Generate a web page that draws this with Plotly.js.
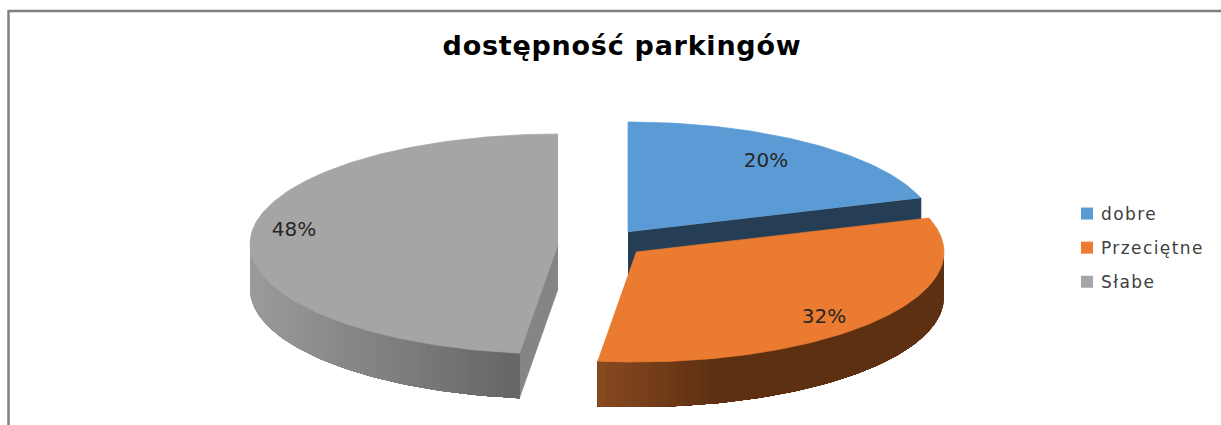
<!DOCTYPE html>
<html><head><meta charset="utf-8">
<script src="https://cdn.plot.ly/plotly-3.0.1.min.js"></script>
<style>
html,body{margin:0;padding:0;background:#fff;overflow:hidden}
.legendtext{letter-spacing:1.4px;transform:translateX(-6px)}
.gtitle{letter-spacing:0.75px}
</style>
</head><body><div id="chart" style="width:1221px;height:425px"></div>
<script>
const chartTitle = 'dostępność parkingów';
const categories = ['dobre', 'Przeciętne', 'Słabe'];
const values = [20, 32, 48];
const topColors = ['#5b9bd5', '#ea7b30', '#a5a5a5'];

// Projection of the tilted, exploded pie (axis units = pixels)
const RX = 308, RY = 110, DEPTH = 45;
const centers = [[628, 232], [636, 252], [558, 244]];
const labelPos = [[766, 162], [824, 318], [294, 231]];

const total = values.reduce((a, b) => a + b, 0);
const pt = (c, deg, dy = 0) => {
  const t = deg * Math.PI / 180;
  return [c[0] + RX * Math.sin(t), c[1] - RY * Math.cos(t) + dy];
};
const arc = (c, a0, a1, dy = 0, step = 1) => {
  const out = [], n = Math.max(1, Math.ceil(Math.abs(a1 - a0) / step));
  for (let i = 0; i <= n; i++) out.push(pt(c, a0 + (a1 - a0) * i / n, dy));
  return out;
};
const poly = (pts, color, w = 0.7) => ({
  type: 'scatter', mode: 'lines', x: pts.map(p => p[0]), y: pts.map(p => p[1]),
  fill: 'toself', fillcolor: color, line: {color: color, width: w},
  hoverinfo: 'skip', showlegend: false
});
const mix = (a, b, f) => 'rgb(' + a.map((v, i) => Math.round(v + (b[i] - v) * f)).join(',') + ')';

let start = 0;
const spans = values.map(v => { const s = [start, start + v / total * 360]; start = s[1]; return s; });

// shaded outer wall: each band runs to the wall's far end, the next one paints over it
function wall(c, from, to, shade) {
  const N = 60;
  for (let i = 0; i < N; i++) {
    const s = from + (to - from) * i / N;
    traces.push(poly([...arc(c, s, to), ...arc(c, to, s, DEPTH)], shade(pt(c, s)[0]), 0));
  }
}

const traces = [];
// blue slice: inner wall, top
{
  const c = centers[0], [a0, a1] = spans[0];
  traces.push(poly([c, pt(c, a1), pt(c, a1, DEPTH), [c[0], c[1] + DEPTH]], '#253e55'));
  traces.push(poly([c, ...arc(c, a0, a1)], topColors[0]));
}
// grey slice: cut wall, shaded outer wall, top
{
  const c = centers[2], [a0, a1] = spans[2];
  traces.push(poly([c, pt(c, a0), pt(c, a0, DEPTH), [c[0], c[1] + DEPTH]], '#858585'));
  wall(c, 270, a0, x => mix([155,155,155], [100,100,100], (x - 250) / 270));
  traces.push(poly([c, ...arc(c, a0, a1)], topColors[2]));
}
// orange slice: shaded outer wall, top
{
  const c = centers[1], [a0, a1] = spans[1];
  wall(c, 90, a1, x => mix([138,75,32], [94,48,18], Math.min(1, Math.max(0, (x - 597) / 120))));
  traces.push(poly([c, ...arc(c, a0, a1)], topColors[1]));
}
// percent labels
traces.push({
  type: 'scatter', mode: 'text', x: labelPos.map(p => p[0]), y: labelPos.map(p => p[1]),
  text: values.map(v => Math.round(v / total * 100) + '%'), textposition: 'middle center',
  textfont: {family: 'DejaVu Sans, sans-serif', size: 20, color: '#262626'},
  hoverinfo: 'skip', showlegend: false
});
// legend entries
categories.forEach((name, i) => traces.push({
  type: 'scatter', mode: 'markers', x: [-50], y: [-50], name: name, legendgroup: name,
  marker: {symbol: 'square', size: 11, color: topColors[i]}
}));

const frame = {color: '#808080', width: 2.5};
const layout = {
  width: 1221, height: 425, margin: {l: 0, r: 0, t: 0, b: 0, pad: 0},
  paper_bgcolor: '#fff', plot_bgcolor: '#fff',
  xaxis: {range: [0, 1221], visible: false, fixedrange: true},
  yaxis: {range: [425, 0], visible: false, fixedrange: true},
  title: {text: '<b>' + chartTitle + '</b>', x: 622 / 1221, xanchor: 'center', y: 1 - 46 / 425, yanchor: 'middle',
    font: {family: 'DejaVu Sans, sans-serif', size: 27, color: '#000'}},
  showlegend: true,
  legend: {x: 1067 / 1221, xanchor: 'left', y: 1 - 196 / 425, yanchor: 'top', tracegroupgap: 9,
    bgcolor: 'rgba(0,0,0,0)', itemsizing: 'constant', itemwidth: 30,
    font: {family: 'DejaVu Sans, sans-serif', size: 17, color: '#404040'}},
  shapes: [
    {type: 'line', xref: 'x', yref: 'y', x0: 8.5, x1: 8.5, y0: 10, y1: 425, line: frame},
    {type: 'line', xref: 'x', yref: 'y', x0: 8, x1: 1221, y0: 11, y1: 11, line: frame}
  ]
};
Plotly.newPlot('chart', traces, layout, {displayModeBar: false, staticPlot: true});
</script></body></html>
